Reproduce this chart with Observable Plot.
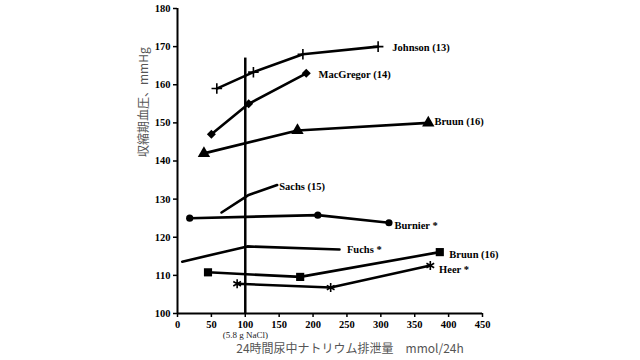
<!DOCTYPE html>
<html><head><meta charset="utf-8">
<script src="https://cdn.jsdelivr.net/npm/d3@7"></script>
<script src="https://cdn.jsdelivr.net/npm/@observablehq/plot@0.6"></script>
<style>
html,body{margin:0;padding:0;background:#fff;}
#chart{width:640px;height:360px;}
</style>
</head><body><div id="chart"></div>
<script>
// Data
const xTicks = [0,50,100,150,200,250,300,350,400,450];
const yTicks = [100,110,120,130,140,150,160,170,180];

const johnsonX = [58,112,185,296];      const johnsonY = [159,163.3,168,170];
const macgregorX = [50,105,190];        const macgregorY = [147,155,163];
const bruunTriX = [39,177,370];         const bruunTriY = [142,148,150];
const sachsX = [65,104,147];            const sachsY = [126.5,131,133.7];
const burnierX = [18,207,312];          const burnierY = [125,125.8,123.8];
const fuchsX = [7,103,239];             const fuchsY = [113.6,117.6,116.8];
const bruunSqX = [45,181,387];          const bruunSqY = [110.8,109.6,116.1];
const heerX = [88,226,373];             const heerY = [107.8,106.8,112.6];

const seriesNames = ["Johnson (13)","MacGregor (14)","Bruun (16)","Sachs (15)","Burnier *","Fuchs *","Bruun (16) sq","Heer *"];
const seriesSymbols = ["plus","diamond","triangle","none","circle","none","square","asterisk"];
const labelTexts = ["Johnson (13)","MacGregor (14)","Bruun (16)","Sachs (15)","Burnier *","Fuchs *","Bruun (16)","Heer *"];
const labelX = [317,208,379,150,320,250,401,386];
const labelY = [169.8,162.7,150.3,133.2,123.1,116.7,115.4,111.4];

const refX = [100];
const refYRange = [100,167];
const refNote = "(5.8 g NaCl)";
const xLabel = "24時間尿中ナトリウム排泄量　mmol/24h";
const yLabel = "収縮期血圧、mmHg";

const xs = [johnsonX,macgregorX,bruunTriX,sachsX,burnierX,fuchsX,bruunSqX,heerX];
const ys = [johnsonY,macgregorY,bruunTriY,sachsY,burnierY,fuchsY,bruunSqY,heerY];
const rows = [];
xs.forEach((arr,i)=>arr.forEach((x,j)=>rows.push({series:seriesNames[i],symbol:seriesSymbols[i],x,y:ys[i][j]})));
const labels = labelTexts.map((t,i)=>({t,x:labelX[i],y:labelY[i]}));

const serif = "'Liberation Serif', 'Times New Roman', serif";
const cjk = "'Noto Sans CJK JP', 'Noto Sans', sans-serif";

const dotsOf = (sym, r, filled, extra={}) => Plot.dot(rows.filter(d=>d.symbol===sym), {
  x:"x", y:"y", symbol: sym, r,
  fill: filled ? "black" : "none", stroke: filled ? "none" : "black", strokeWidth: filled ? 0 : 1.6, ...extra
});

const chart = Plot.plot({
  width: 640, height: 360,
  marginLeft: 177, marginRight: 158, marginTop: 8, marginBottom: 47,
  style: {fontFamily: serif, background: "#fff"},
  x: {domain:[0,450]},
  y: {domain:[100,180]},
  marks: [
    Plot.ruleX([0], {stroke:"black", strokeWidth:2}),
    Plot.ruleY([100], {stroke:"black", strokeWidth:2}),
    Plot.axisX({ticks: xTicks, tickSize:4, tickPadding:3, fontSize:10.5, fontWeight:"bold", label:null, stroke:"black", strokeWidth:1.5}),
    Plot.axisY({ticks: yTicks, tickSize:4, tickPadding:3, fontSize:10.5, fontWeight:"bold", label:null, stroke:"black", strokeWidth:1.5}),
    Plot.ruleX(refX, {y1: refYRange[0], y2: refYRange[1], stroke:"black", strokeWidth:2.5}),
    Plot.line(rows, {x:"x", y:"y", z:"series", stroke:"black", strokeWidth:2.6}),
    dotsOf("circle", 3.6, true),
    dotsOf("square", 4.6, true),
    dotsOf("triangle", 4.6, true),
    Plot.dot(rows.filter(d=>d.symbol==="diamond"), {x:"x", y:"y", symbol:"square", r:3.6, rotate:45, fill:"black"}),
    dotsOf("plus", 3.5, false),
    dotsOf("asterisk", 4.2, false),
    Plot.text(labels, {x:"x", y:"y", text:"t", textAnchor:"start", fontSize:10.5, fontWeight:"bold", fill:"black", fontFamily: serif}),
    Plot.text([refNote], {x: () => refX[0], frameAnchor:"bottom", dy:24, fontSize:9, fill:"#222", fontFamily: serif}),
    Plot.text([xLabel], {frameAnchor:"bottom", dx:20, dy:39, fontSize:12, fill:"#555", fontFamily: cjk}),
    Plot.text([yLabel], {frameAnchor:"left", rotate:-90, dx:-33, dy:-4, fontSize:12, fill:"#555", fontFamily: cjk})
  ]
});
document.getElementById("chart").appendChild(chart);
</script>
</body></html>
